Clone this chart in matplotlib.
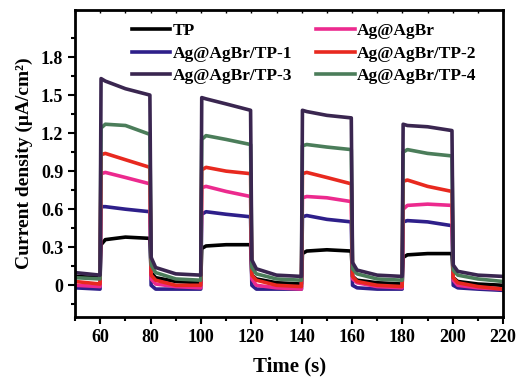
import matplotlib.pyplot as plt
from matplotlib.ticker import MultipleLocator, FixedLocator

plt.rcParams['font.family'] = ['Liberation Serif', 'DejaVu Serif']
plt.rcParams['font.weight'] = 'bold'

# time knots (s)
t = [50, 59.9, 60.3, 62, 70, 79.7, 80.2, 82, 90, 99.9,
     100.3, 102, 110, 119.7, 120.2, 122, 130, 139.9,
     140.3, 142, 150, 159.7, 160.2, 162, 170, 179.9,
     180.3, 182, 190, 199.7, 200.2, 202, 210, 220]

tp = [0.07, 0.06, 0.32, 0.36, 0.38, 0.37, 0.10, 0.06, 0.03, 0.02,
      0.29, 0.31, 0.32, 0.32, 0.08, 0.05, 0.02, 0.01,
      0.25, 0.27, 0.28, 0.27, 0.07, 0.04, 0.02, 0.01,
      0.22, 0.24, 0.25, 0.25, 0.06, 0.03, 0.01, 0.00]

agagbr = [0.00, -0.01, 0.88, 0.89, 0.85, 0.80, 0.05, 0.01, -0.01, -0.02,
          0.77, 0.78, 0.74, 0.70, 0.05, 0.00, -0.02, -0.03,
          0.69, 0.70, 0.69, 0.66, 0.05, 0.02, -0.01, -0.02,
          0.60, 0.63, 0.64, 0.63, 0.04, 0.00, -0.02, -0.03]

tp1 = [-0.02, -0.03, 0.62, 0.62, 0.60, 0.58, 0.00, -0.03, -0.03, -0.03,
       0.56, 0.58, 0.56, 0.54, 0.00, -0.03, -0.03, -0.03,
       0.54, 0.55, 0.52, 0.50, 0.00, -0.02, -0.03, -0.03,
       0.50, 0.51, 0.50, 0.47, 0.00, -0.02, -0.03, -0.04]

tp2 = [0.03, 0.01, 1.03, 1.04, 0.99, 0.93, 0.08, 0.04, 0.00, 0.00,
       0.91, 0.93, 0.90, 0.88, 0.08, 0.04, 0.00, -0.01,
       0.88, 0.89, 0.85, 0.80, 0.07, 0.03, 0.00, -0.01,
       0.82, 0.83, 0.78, 0.74, 0.06, 0.02, -0.01, -0.03]

tp3 = [0.10, 0.08, 1.63, 1.61, 1.55, 1.50, 0.22, 0.14, 0.09, 0.08,
       1.48, 1.47, 1.43, 1.38, 0.20, 0.13, 0.08, 0.07,
       1.38, 1.37, 1.34, 1.32, 0.18, 0.12, 0.08, 0.07,
       1.27, 1.26, 1.25, 1.22, 0.16, 0.11, 0.08, 0.07]

tp4 = [0.06, 0.05, 1.24, 1.27, 1.26, 1.19, 0.16, 0.10, 0.05, 0.04,
       1.15, 1.18, 1.15, 1.11, 0.14, 0.09, 0.05, 0.04,
       1.10, 1.11, 1.09, 1.07, 0.13, 0.09, 0.05, 0.04,
       1.05, 1.07, 1.04, 1.02, 0.12, 0.08, 0.05, 0.03]

fig = plt.figure(figsize=(5.29, 3.88), dpi=100)
ax = fig.add_axes([0.142, 0.183, 0.809, 0.791])

lw = 2.6
h_tp, = ax.plot(t, tp, color='black', lw=lw, label='TP')
h_tp1, = ax.plot(t, tp1, color='#2e1f8a', lw=lw, label='Ag@AgBr/TP-1')
h_ag, = ax.plot(t, agagbr, color='#ec2a8e', lw=lw, label='Ag@AgBr')
h_tp2, = ax.plot(t, tp2, color='#e8291f', lw=lw, label='Ag@AgBr/TP-2')
h_tp4, = ax.plot(t, tp4, color='#4b7d5a', lw=lw, label='Ag@AgBr/TP-4')
h_tp3, = ax.plot(t, tp3, color='#3a2650', lw=lw, label='Ag@AgBr/TP-3')

# legend fills column-wise
handles = [h_tp, h_tp1, h_tp3, h_ag, h_tp2, h_tp4]
ax.legend(handles=handles, labels=[h.get_label() for h in handles],
          ncol=2, frameon=False, loc='upper left',
          bbox_to_anchor=(0.096, 1.008), handlelength=2.2, handletextpad=0.15,
          columnspacing=1.4, labelspacing=0.35,
          prop={'weight': 'bold', 'size': 12.5})

ax.set_xlim(50, 220)
ax.set_ylim(-0.25, 2.17)
ax.xaxis.set_major_locator(MultipleLocator(20))
ax.xaxis.set_minor_locator(MultipleLocator(10))
ax.yaxis.set_major_locator(FixedLocator([0, 0.3, 0.6, 0.9, 1.2, 1.5, 1.8]))
ax.set_yticklabels(['0', '0.3', '0.6', '0.9', '1.2', '1.5', '1.8'])
ax.yaxis.set_minor_locator(FixedLocator([-0.15, 0.15, 0.45, 0.75, 1.05, 1.35, 1.65, 1.95]))

ax.tick_params(which='both', direction='out', width=1.5, labelsize=13)
ax.tick_params(which='major', length=5)
ax.tick_params(which='minor', length=3)
for s in ax.spines.values():
    s.set_linewidth(2)
# small inward ticks along the top edge
sec = ax.secondary_xaxis('top')
sec.tick_params(which='both', direction='in', length=2.5, width=1, labeltop=False)
sec.xaxis.set_minor_locator(MultipleLocator(10))

ax.set_xlabel('Time (s)', fontsize=15, fontweight='bold', labelpad=8)
ax.set_ylabel('Current density (μA/cm²)', fontsize=14, fontweight='bold', labelpad=6)

fig.savefig('out.png', dpi=100)
